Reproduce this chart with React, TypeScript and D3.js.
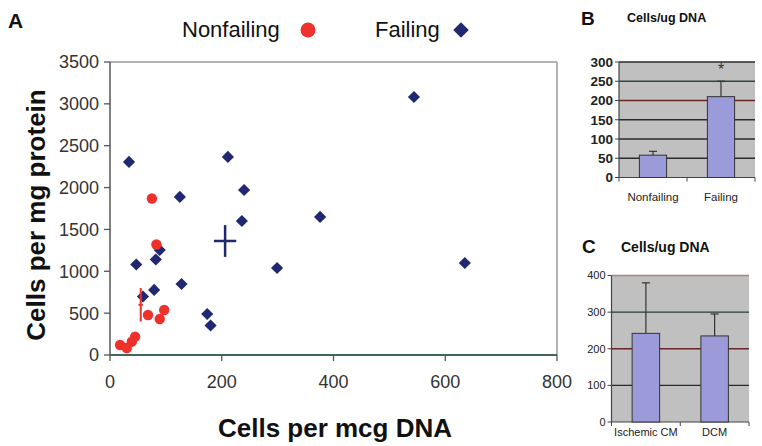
import React from "react";
import * as d3 from "d3";

// Panel A data
const nonfailingX = [18, 30, 39, 45, 68, 89, 97, 75, 83];
const nonfailingY = [120, 84, 159, 219, 478, 430, 538, 1870, 1320];
const failingX = [544, 635, 34, 211, 240, 236, 125, 376, 299, 47, 82, 89, 79, 128, 59, 174, 180];
const failingY = [3082, 1099, 2306, 2366, 1971, 1601, 1888, 1649, 1039, 1081, 1141, 1254, 777, 848, 699, 490, 352];
const nonfailingMean = { x: 55, y: 600, ex: 4, ey: 200 };
const failingMean = { x: 206, y: 1362, ex: 20, ey: 190 };
const xTicksA = [0, 200, 400, 600, 800];
const yTicksA = [0, 500, 1000, 1500, 2000, 2500, 3000, 3500];

// Panel B data
const bCategories = ["Nonfailing", "Failing"];
const bValues = [58, 210];
const bErrors = [10, 40];
const bTicks = [0, 50, 100, 150, 200, 250, 300];

// Panel C data
const cCategories = ["Ischemic CM", "DCM"];
const cValues = [242, 235];
const cErrors = [138, 60];
const cTicks = [0, 100, 200, 300, 400];

const NAVY = "#1f2870";
const RED = "#f0302a";
const BAR = "#9b9bd9";
const FONT = "'Liberation Sans', Arial, sans-serif";

function PanelA() {
  const x = d3.scaleLinear().domain([0, 800]).range([110, 557]);
  const y = d3.scaleLinear().domain([0, 3500]).range([355, 62]);
  const diamond = d3.symbol().type(d3.symbolSquare).size(74)();
  const legendDiamond = d3.symbol().type(d3.symbolSquare).size(120)();
  return (
    <g fontFamily={FONT}>
      <text x={8} y={28} fontSize={21} fontWeight="bold" fill="#111">A</text>
      <text x={182} y={37} fontSize={22} fill="#111">Nonfailing</text>
      <circle cx={308} cy={30} r={7.5} fill={RED} />
      <text x={375} y={37} fontSize={22} fill="#111">Failing</text>
      <path d={legendDiamond} transform="translate(461,30) rotate(45)" fill={NAVY} />

      {/* plot border */}
      <line x1={x(0)} x2={x(800)} y1={y(3500)} y2={y(3500)} stroke="#9a9a9a" strokeWidth={1.5} />
      <line x1={x(800)} x2={x(800)} y1={y(3500)} y2={y(0)} stroke="#9a9a9a" strokeWidth={1.5} />
      <line x1={x(0)} x2={x(0)} y1={y(3500)} y2={y(0)} stroke="#555" strokeWidth={1.5} />
      <line x1={x(0)} x2={x(800)} y1={y(0)} y2={y(0)} stroke="#3f6658" strokeWidth={1.8} />

      {yTicksA.map((t) => (
        <g key={"ya" + t}>
          <line x1={x(0) - 6} x2={x(0)} y1={y(t)} y2={y(t)} stroke="#555" strokeWidth={1.3} />
          <text x={x(0) - 11} y={y(t)} dy="0.36em" textAnchor="end" fontSize={18} fill="#333">{t}</text>
        </g>
      ))}
      {xTicksA.map((t) => (
        <g key={"xa" + t}>
          <line x1={x(t)} x2={x(t)} y1={y(0)} y2={y(0) + 6} stroke="#555" strokeWidth={1.3} />
          <text x={x(t)} y={y(0) + 27} dy="0.36em" textAnchor="middle" fontSize={18} fill="#333">{t}</text>
        </g>
      ))}

      <text x={335} y={437} textAnchor="middle" fontSize={26} fontWeight="bold" fill="#111">Cells per mcg DNA</text>
      <text transform="translate(45,215) rotate(-90)" textAnchor="middle" fontSize={26} fontWeight="bold" fill="#111">Cells per mg protein</text>

      {failingX.map((v, i) => (
        <path key={"f" + i} d={diamond} transform={`translate(${x(v)},${y(failingY[i])}) rotate(45)`} fill={NAVY} />
      ))}
      {nonfailingX.map((v, i) => (
        <circle key={"n" + i} cx={x(v)} cy={y(nonfailingY[i])} r={5.2} fill={RED} />
      ))}

      {/* means */}
      <line x1={x(failingMean.x - failingMean.ex)} x2={x(failingMean.x + failingMean.ex)} y1={y(failingMean.y)} y2={y(failingMean.y)} stroke={NAVY} strokeWidth={2.5} />
      <line x1={x(failingMean.x)} x2={x(failingMean.x)} y1={y(failingMean.y - failingMean.ey)} y2={y(failingMean.y + failingMean.ey)} stroke={NAVY} strokeWidth={2.5} />
      <line x1={x(nonfailingMean.x - nonfailingMean.ex)} x2={x(nonfailingMean.x + nonfailingMean.ex)} y1={y(nonfailingMean.y)} y2={y(nonfailingMean.y)} stroke={RED} strokeWidth={2} />
      <line x1={x(nonfailingMean.x)} x2={x(nonfailingMean.x)} y1={y(nonfailingMean.y - nonfailingMean.ey)} y2={y(nonfailingMean.y + nonfailingMean.ey)} stroke={RED} strokeWidth={2} />
    </g>
  );
}

function BarPanel(props: {
  letter: string; lx: number; ly: number; lsize: number;
  title: string; tx: number; ty: number; tsize: number;
  cats: string[]; vals: number[]; errs: number[]; ticks: number[];
  left: number; right: number; top: number; bottom: number; max: number;
  tickSize: number; tickBold: boolean; catSize: number; catOffset: number; star?: boolean;
  gridColors: Record<number, string>;
}) {
  const p = props;
  const x = d3.scaleBand().domain(p.cats).range([p.left, p.right]).paddingInner(0.6).paddingOuter(0.3);
  const y = d3.scaleLinear().domain([0, p.max]).range([p.bottom, p.top]);
  const edges = [p.left, (p.left + p.right) / 2, p.right];
  return (
    <g fontFamily={FONT}>
      <text x={p.lx} y={p.ly} fontSize={p.lsize} fontWeight="bold" fill="#111">{p.letter}</text>
      <text x={p.tx} y={p.ty} fontSize={p.tsize} fontWeight="bold" fill="#111">{p.title}</text>
      <rect x={p.left} y={p.top} width={p.right - p.left} height={p.bottom - p.top} fill="#c0c0c0" />
      {p.ticks.filter((t) => t > 0).map((t) => (
        <line key={"g" + t} x1={p.left} x2={p.right} y1={y(t)} y2={y(t)} stroke={p.gridColors[t] || "#2a2a2a"} strokeWidth={1.3} />
      ))}
      <line x1={p.left} x2={p.left} y1={p.top} y2={p.bottom} stroke="#444" strokeWidth={1.2} />
      <line x1={p.left} x2={p.right} y1={p.bottom} y2={p.bottom} stroke="#444" strokeWidth={1.2} />
      {p.ticks.map((t) => (
        <g key={"t" + t}>
          <line x1={p.left - 4} x2={p.left} y1={y(t)} y2={y(t)} stroke="#444" />
          <text x={p.left - 6} y={y(t)} dy="0.36em" textAnchor="end" fontSize={p.tickSize} fontWeight={p.tickBold ? "bold" : "normal"} fill="#222">{t}</text>
        </g>
      ))}
      {edges.map((e, i) => (
        <line key={"e" + i} x1={e} x2={e} y1={p.bottom} y2={p.bottom + 4} stroke="#444" />
      ))}
      {p.cats.map((c, i) => {
        const bx = x(c) as number;
        const bw = x.bandwidth();
        const cx = bx + bw / 2;
        return (
          <g key={c}>
            <line x1={cx} x2={cx} y1={y(p.vals[i])} y2={y(p.vals[i] + p.errs[i])} stroke="#333" strokeWidth={1.2} />
            <line x1={cx - 4} x2={cx + 4} y1={y(p.vals[i] + p.errs[i])} y2={y(p.vals[i] + p.errs[i])} stroke="#333" strokeWidth={1.2} />
            <rect x={bx} y={y(p.vals[i])} width={bw} height={p.bottom - y(p.vals[i])} fill={BAR} stroke="#333" strokeWidth={1} />
            <text x={cx} y={p.bottom + p.catOffset} textAnchor="middle" fontSize={p.catSize} fill="#222">{c}</text>
          </g>
        );
      })}
      {p.star ? (
        <text x={(x(p.cats[1]) as number) + x.bandwidth() / 2} y={y(p.vals[1] + p.errs[1]) - 6} textAnchor="middle" fontSize={16} fill="#333">*</text>
      ) : null}
    </g>
  );
}

export default function App() {
  return (
    <svg width={762} height={446} style={{ position: "absolute", left: 0, top: 0, background: "#fff" }}>
      <rect width={762} height={446} fill="#fff" />
      <PanelA />
      <BarPanel
        letter="B" lx={581} ly={25} lsize={19}
        title="Cells/ug DNA" tx={627} ty={22} tsize={12.5}
        cats={bCategories} vals={bValues} errs={bErrors} ticks={bTicks}
        left={619} right={755} top={62} bottom={177.5} max={300}
        tickSize={13.5} tickBold={true} catSize={11.5} catOffset={23} star={true}
        gridColors={{ 250: "#2c4a3c", 200: "#6a2626" }}
      />
      <BarPanel
        letter="C" lx={582} ly={253} lsize={19}
        title="Cells/ug DNA" tx={621} ty={252} tsize={14}
        cats={cCategories} vals={cValues} errs={cErrors} ticks={cTicks}
        left={611.5} right={749} top={275.5} bottom={422} max={400}
        tickSize={11} tickBold={false} catSize={11} catOffset={14} star={false}
        gridColors={{ 400: "#b08080", 300: "#24402f", 200: "#6a2626" }}
      />
    </svg>
  );
}
